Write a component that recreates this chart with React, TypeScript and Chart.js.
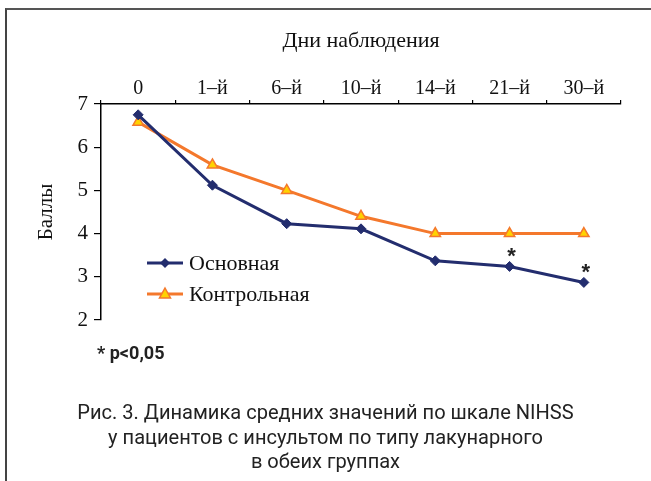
import React, { useEffect, useRef } from "react";
import { Chart, registerables } from "chart.js";

Chart.register(...registerables);

const categories = ["0", "1–й", "6–й", "10–й", "14–й", "21–й", "30–й"];
const mainValues = [6.75, 5.12, 4.23, 4.11, 3.37, 3.24, 2.87];
const controlValues = [6.58, 5.59, 5.0, 4.4, 4.0, 4.0, 4.0];
const significant = [false, false, false, false, false, true, true];
const seriesNames = ["Основная", "Контрольная"];
const xTitle = "Дни наблюдения";
const yTitle = "Баллы";
const pNote = "* p<0,05";
const captionLines = [
  "Рис. 3. Динамика средних значений по шкале NIHSS",
  "у пациентов с инсультом по типу лакунарного",
  "в обеих группах",
];

const NAVY = "#232d6e";
const ORANGE = "#f4782c";
const YELLOW = "#ffd200";
const SERIF = "'Liberation Serif', 'DejaVu Serif', serif";
const NARROW = "'Liberation Sans Narrow', 'Roboto', 'Liberation Sans', sans-serif";

const overlayPlugin = {
  id: "overlay",
  afterDatasetsDraw(chart: any) {
    const ctx = chart.ctx;
    const area = chart.chartArea;
    const xs = chart.scales.x;
    const ys = chart.scales.y;
    ctx.save();
    // asterisks
    ctx.fillStyle = "#222";
    ctx.font = "bold 22px 'Liberation Sans', Arial, sans-serif";
    ctx.textAlign = "center";
    ctx.textBaseline = "middle";
    significant.forEach((s, i) => {
      if (!s) return;
      const px = xs.getPixelForValue(i);
      const py = ys.getPixelForValue(mainValues[i]);
      ctx.fillText("*", px + 2, py - 9);
    });
    // legend
    const items = [
      { name: seriesNames[0], color: NAVY, type: "diamond" },
      { name: seriesNames[1], color: ORANGE, type: "triangle" },
    ];
    items.forEach((it, k) => {
      const y = area.top + 159 + k * 31;
      const x0 = area.left + 46;
      const x1 = x0 + 36;
      ctx.strokeStyle = it.color;
      ctx.lineWidth = 3;
      ctx.beginPath();
      ctx.moveTo(x0, y);
      ctx.lineTo(x1, y);
      ctx.stroke();
      const cx = (x0 + x1) / 2;
      if (it.type === "diamond") {
        ctx.fillStyle = NAVY;
        ctx.beginPath();
        ctx.moveTo(cx, y - 5);
        ctx.lineTo(cx + 5, y);
        ctx.lineTo(cx, y + 5);
        ctx.lineTo(cx - 5, y);
        ctx.closePath();
        ctx.fill();
      } else {
        ctx.fillStyle = YELLOW;
        ctx.strokeStyle = ORANGE;
        ctx.lineWidth = 1.5;
        ctx.beginPath();
        ctx.moveTo(cx, y - 6);
        ctx.lineTo(cx + 5.5, y + 4);
        ctx.lineTo(cx - 5.5, y + 4);
        ctx.closePath();
        ctx.fill();
        ctx.stroke();
      }
      ctx.fillStyle = "#111";
      ctx.font = "22px " + SERIF;
      ctx.textAlign = "left";
      ctx.textBaseline = "middle";
      ctx.fillText(it.name, x1 + 6, y + 1);
    });
    ctx.restore();
  },
};

export default function App() {
  const canvasRef = useRef<HTMLCanvasElement | null>(null);

  useEffect(() => {
    if (!canvasRef.current) return;
    const chart = new Chart(canvasRef.current, {
      type: "line",
      data: {
        labels: categories,
        datasets: [
          {
            label: seriesNames[0],
            data: mainValues,
            borderColor: NAVY,
            backgroundColor: NAVY,
            borderWidth: 3,
            pointStyle: "rectRot",
            pointRadius: 5,
            pointBorderWidth: 1,
            pointBorderColor: NAVY,
            pointBackgroundColor: NAVY,
            tension: 0,
          },
          {
            label: seriesNames[1],
            data: controlValues,
            borderColor: ORANGE,
            backgroundColor: YELLOW,
            borderWidth: 3,
            pointStyle: "triangle",
            pointRadius: 6,
            pointBorderWidth: 1.5,
            pointBorderColor: ORANGE,
            pointBackgroundColor: YELLOW,
            tension: 0,
          },
        ],
      },
      options: {
        responsive: false,
        animation: false,
        layout: { padding: { left: 0, top: 0, right: 30, bottom: 161 } },
        plugins: {
          legend: { display: false },
          tooltip: { enabled: false },
        },
        scales: {
          x: {
            position: "top",
            offset: true,
            grid: {
              offset: true,
              drawOnChartArea: false,
              drawTicks: true,
              tickLength: 4,
              color: "#000",
              lineWidth: 1.2,
            },
            border: { display: true, color: "#000", width: 1.5 },
            ticks: {
              color: "#111",
              font: { family: SERIF, size: 20 },
              padding: -1,
              maxRotation: 0,
            },
            title: {
              display: true,
              text: xTitle,
              color: "#111",
              font: { family: SERIF, size: 22 },
              padding: { top: 28, bottom: 0 },
            },
            afterFit(scale: any) {
              scale.height = 104;
            },
          },
          y: {
            min: 2,
            max: 7,
            ticks: {
              stepSize: 1,
              color: "#111",
              font: { family: SERIF, size: 21 },
              padding: 6,
            },
            grid: {
              drawOnChartArea: false,
              drawTicks: true,
              tickLength: 7,
              color: "#000",
              lineWidth: 1.2,
            },
            border: { display: true, color: "#000", width: 1.5 },
            title: {
              display: true,
              text: yTitle,
              color: "#111",
              font: { family: SERIF, size: 21 },
              padding: { top: 34, bottom: 0 },
            },
            afterFit(scale: any) {
              scale.width = 101;
            },
          },
        },
      },
      plugins: [overlayPlugin],
    });
    return () => chart.destroy();
  }, []);

  return (
    <div
      style={{
        position: "fixed",
        left: 0,
        top: 0,
        width: 651,
        height: 481,
        background: "#fff",
        overflow: "hidden",
      }}
    >
      <div
        style={{
          position: "absolute",
          left: 5,
          top: 8,
          width: 700,
          height: 500,
          borderLeft: "2px solid #444",
          borderTop: "2px solid #555",
        }}
      />
      <canvas
        ref={canvasRef}
        width={651}
        height={481}
        style={{ position: "absolute", left: 0, top: 0, width: 651, height: 481 }}
      />
      <div
        style={{
          position: "absolute",
          left: 97,
          top: 341,
          fontFamily: NARROW,
          fontWeight: "bold",
          fontSize: 19,
          color: "#222",
          whiteSpace: "nowrap",
          transform: "scaleX(0.95)",
          transformOrigin: "left center",
        }}
      >
        {pNote}
      </div>
      <div
        style={{
          position: "absolute",
          left: 0,
          top: 400,
          width: 651,
          textAlign: "center",
          fontFamily: NARROW,
          fontSize: 21,
          lineHeight: "24.5px",
          color: "#222",
          transform: "scaleX(0.955)",
          transformOrigin: "325px center",
        }}
      >
        {captionLines.map((l, i) => (
          <div key={i}>{l}</div>
        ))}
      </div>
    </div>
  );
}
